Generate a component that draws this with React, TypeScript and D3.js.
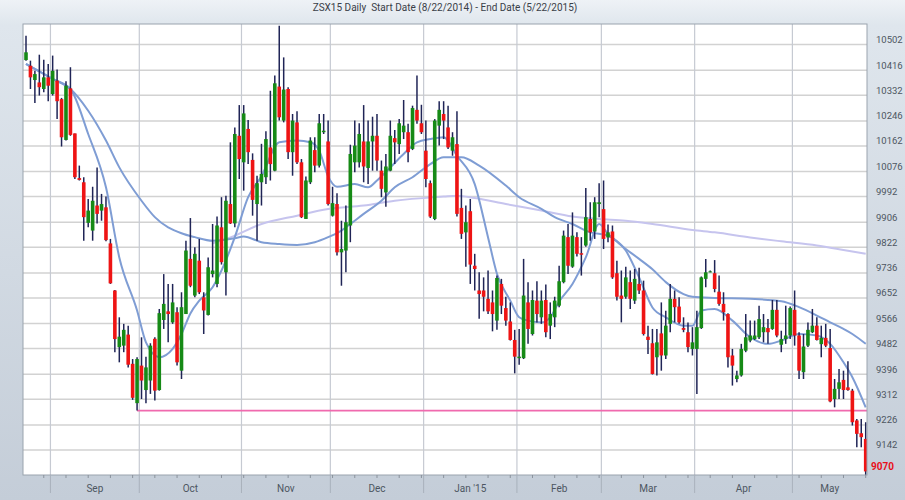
import React from 'react';
import * as d3 from 'd3';

const W = 905;
const H = 500;

const opens = [
  10450,10431,10383,10375,10353,10392,10336,10381,10319,10182,
  10355,10204,10054,10040,9904,9878,9962,9945,9956,9835,
  9677,9487,9492,9529,9431,9299,9425,9343,9375,9515,
  9343,9578,9607,9570,9604,9408,9598,9783,9660,9777,
  9654,9595,9732,9699,9889,9738,9967,9902,10196,10107,
  10219,10115,9967,10040,10057,10157,10079,10361,10247,10353,
  10141,10241,10107,9917,10040,10148,10096,10208,10177,9928,
  9967,9805,9811,9895,10107,10107,10177,10088,10177,10196,
  10079,10006,10079,10188,10168,10208,10208,10152,10283,10238,
  10146,10037,9917,10230,10269,10224,10146,10168,9954,9872,
  9943,9760,9677,9677,9649,9637,9576,9699,9618,9573,
  9511,9450,9450,9637,9531,9643,9587,9645,9559,9587,
  9626,9705,9856,9757,9856,9802,9828,9917,9875,9967,
  9950,9855,9875,9735,9660,9656,9705,9643,9699,9677,
  9522,9500,9453,9533,9459,9565,9649,9623,9551,9537,
  9481,9481,9551,9716,9741,9735,9673,9632,9598,9459,
  9380,9392,9475,9509,9514,9520,9537,9551,9548,9612,
  9495,9514,9526,9612,9526,9403,9492,9537,9559,9497,
  9518,9484,9313,9347,9377,9352,9341,9241,9198,9179,
];

const highs = [
  10532,10448,10414,10468,10451,10437,10465,10418,10323,10379,
  10426,10204,10096,10057,9984,10025,10090,10001,9992,9850,
  9679,9587,9565,9559,9447,9453,9520,9455,9500,9520,
  9615,9732,9699,9699,9621,9671,9844,9920,9822,9850,
  9671,9788,9900,9925,9990,9995,10174,10224,10299,10299,
  10249,10137,10062,10169,10211,10347,10398,10565,10459,10359,
  10269,10278,10118,10059,10191,10191,10269,10269,10247,10025,
  10003,9911,9962,10166,10247,10238,10299,10247,10260,10269,
  10113,10135,10247,10215,10252,10316,10236,10297,10398,10300,
  10247,10046,10252,10312,10312,10297,10208,10278,10018,9962,
  9984,9800,9738,9721,9744,9677,9727,9716,9656,9637,
  9545,9548,9783,9705,9677,9708,9677,9697,9637,9656,
  9760,9878,9900,9939,9872,9856,10021,9973,9990,10037,
  10046,9898,9895,9777,9744,9757,9744,9749,9753,9710,
  9559,9548,9548,9637,9609,9699,9677,9654,9587,9570,
  9554,9609,9724,9783,9744,9779,9727,9671,9601,9481,
  9408,9498,9598,9576,9576,9626,9598,9581,9645,9645,
  9542,9626,9623,9677,9537,9531,9570,9615,9587,9559,
  9565,9548,9380,9414,9408,9440,9347,9246,9246,9235,
];

const lows = [
  10448,10353,10306,10331,10342,10312,10331,10252,10160,10180,
  10196,10051,10046,9844,9889,9844,9902,9911,9842,9699,
  9470,9436,9470,9419,9310,9274,9313,9299,9330,9308,
  9341,9548,9503,9565,9425,9380,9598,9688,9654,9665,
  9531,9593,9721,9688,9764,9660,9900,9889,10051,10012,
  10101,9928,9844,9962,10034,10046,10077,10247,10241,10118,
  10062,10101,9920,9917,10034,10074,10090,10202,9962,9925,
  9794,9693,9738,9839,10074,10090,10040,10034,10079,10079,
  9990,9958,10077,10101,10135,10185,10107,10148,10236,10202,
  10023,9920,9913,10163,10185,10152,10129,9925,9850,9757,
  9699,9677,9582,9607,9598,9540,9545,9598,9559,9509,
  9399,9428,9447,9498,9526,9570,9565,9520,9514,9554,
  9621,9701,9732,9753,9791,9727,9824,9844,9850,9923,
  9816,9839,9716,9643,9570,9649,9615,9632,9665,9526,
  9464,9395,9392,9408,9447,9537,9570,9565,9537,9470,
  9459,9330,9548,9688,9738,9671,9626,9576,9419,9358,
  9369,9388,9470,9503,9511,9514,9503,9498,9545,9520,
  9470,9498,9514,9492,9380,9380,9487,9534,9509,9453,
  9487,9302,9285,9313,9313,9341,9224,9151,9151,9056,
];

const closes = [
  10476,10392,10403,10359,10392,10364,10414,10312,10191,10364,
  10199,10057,10048,9923,9945,9978,9934,9967,9846,9701,
  9514,9522,9545,9428,9317,9447,9375,9419,9492,9341,
  9601,9632,9598,9637,9436,9621,9811,9693,9800,9671,
  9610,9755,9744,9895,9772,9978,9902,10202,10118,10271,
  10141,9981,10037,10068,10185,10101,10372,10258,10351,10141,
  10247,10107,9923,10046,10180,10096,10238,10213,9967,9970,
  9805,9816,9906,10135,10163,10202,10093,10177,10196,10113,
  10018,10093,10196,10174,10238,10230,10141,10289,10247,10208,
  10051,9925,10247,10283,10247,10157,10191,9934,9867,9906,
  9764,9749,9665,9656,9607,9598,9719,9626,9576,9511,
  9455,9455,9660,9548,9645,9598,9643,9537,9598,9643,
  9708,9861,9760,9861,9800,9797,9923,9872,9973,9973,
  9850,9872,9721,9656,9649,9721,9649,9716,9677,9531,
  9511,9397,9503,9459,9559,9649,9621,9570,9545,9487,
  9503,9554,9721,9738,9741,9682,9632,9604,9453,9425,
  9392,9481,9520,9526,9526,9581,9554,9537,9612,9526,
  9514,9526,9618,9526,9408,9489,9545,9559,9511,9518,
  9492,9305,9347,9369,9343,9343,9235,9196,9185,9070,
];

// moving averages: [bar index, value]
const maFast: [number, number][] = [
  [0,10437],[6,10387],[10,10353],[14,10202],[18,10023],[21,9788],[25,9610],[27,9503],
  [30,9453],[33,9481],[35,9531],[37,9600],[39,9643],[42,9688],[44,9744],[47,9856],
  [50,9990],[53,10060],[57,10174],[61,10180],[64,10174],[66,10146],[68,10060],[70,10025],
  [74,10034],[77,10023],[79,10046],[82,10090],[85,10135],[88,10174],[91,10185],[94,10191],
  [97,10129],[101,10034],[104,9855],[106,9733],[109,9643],[111,9587],[113,9576],[116,9570],
  [118,9587],[120,9640],[123,9699],[126,9788],[129,9900],[131,9867],[135,9811],[138,9721],
  [141,9620],[144,9587],[148,9559],[150,9559],[152,9610],[155,9615],[159,9576],[163,9520],
  [167,9498],[170,9509],[174,9531],[178,9526],[181,9498],[184,9436],[186,9386],[189,9285],
];

const maMid: [number, number][] = [
  [0,10437],[6,10387],[10,10353],[14,10280],[18,10180],[21,10090],[26,9978],[29,9923],
  [35,9869],[38,9856],[42,9844],[47,9852],[49,9858],[53,9839],[57,9833],[61,9830],
  [65,9839],[68,9856],[71,9878],[73,9900],[76,9934],[80,9978],[83,10023],[87,10057],
  [91,10101],[94,10124],[98,10124],[102,10096],[108,10029],[111,9990],[116,9951],[119,9923],
  [123,9900],[127,9872],[131,9861],[135,9816],[138,9783],[141,9748],[144,9705],[148,9665],
  [150,9656],[155,9652],[163,9649],[170,9641],[174,9621],[178,9593],[181,9570],[184,9548],
  [186,9531],[189,9498],
];

const maSlow: [number, number][] = [
  [42,9835],[46,9855],[53,9900],[61,9928],[68,9950],[76,9962],[83,9978],[94,9992],
  [97,9995],[101,9987],[108,9967],[116,9945],[123,9925],[129,9917],[135,9911],[141,9900],
  [150,9880],[155,9872],[163,9855],[170,9842],[178,9828],[184,9813],[189,9800],
];

const priceTicks = [
  9142, 9226, 9312, 9396, 9482, 9566, 9652, 9736, 9822, 9906,
  9992, 10076, 10162, 10246, 10332, 10416, 10502,
];
const monthLabels = ['Sep', 'Oct', 'Nov', 'Dec', "Jan '15", 'Feb', 'Mar', 'Apr', 'May'];
const monthStarts = [6, 26, 49, 69, 90, 111, 130, 151, 173];
const lastPrice = 9070;
const supportLevel = 9274;
const supportFrom = 25;
const title = 'ZSX15 Daily  Start Date (8/22/2014) - End Date (5/22/2015)';

const PL = 23, PR = 867, PT = 24, PB = 475;

export default function App() {
  const n = closes.length;
  const x = d3.scaleLinear().domain([0, n - 1]).range([26, 865.7]);
  const y = d3.scaleLinear().domain([9058, 10571]).range([PB, PT]);
  const line = d3
    .line<[number, number]>()
    .x((d) => x(d[0]))
    .y((d) => y(d[1]))
    .curve(d3.curveMonotoneX);

  const bodyW = 3.6;
  const bounds = monthStarts.map((s) => x(s - 0.5));
  const labelCenters = monthStarts.map((s, k) => {
    const a = x(s - 0.5);
    const b = k < monthStarts.length - 1 ? x(monthStarts[k + 1] - 0.5) : PR;
    return (a + b) / 2;
  });
  const weekTicks = d3.range(4, n, 5);

  return (
    <svg
      width={W}
      height={H}
      style={{ position: 'absolute', left: 0, top: 0, display: 'block' }}
      fontFamily="Roboto, 'Open Sans', sans-serif"
    >
      <defs>
        <linearGradient id="bg" x1="0" y1="0" x2="0" y2="1">
          <stop offset="0" stopColor="#eef2f6" />
          <stop offset="0.05" stopColor="#dfe6ed" />
          <stop offset="1" stopColor="#c4cdd8" />
        </linearGradient>
        <clipPath id="plotClip">
          <rect x={PL} y={PT} width={PR - PL} height={PB - PT} />
        </clipPath>
      </defs>
      <rect x={0} y={0} width={W} height={H} fill="url(#bg)" />
      <text
        x={445}
        y={10.5}
        textAnchor="middle"
        fontSize={10}
        fill="#3a4048"
        style={{ whiteSpace: 'pre' }}
      >
        {title}
      </text>

      <rect x={PL} y={PT} width={PR - PL} height={PB - PT} fill="#ffffff" />

      <g clipPath="url(#plotClip)">
        {priceTicks.map((p) => (
          <line key={p} x1={PL} x2={PR} y1={y(p)} y2={y(p)} stroke="#d2d2d2" strokeWidth={1.5} />
        ))}
        {bounds.map((bx, k) => (
          <line key={k} x1={bx} x2={bx} y1={PT} y2={PB} stroke="#c6cad2" strokeWidth={1.2} />
        ))}
        <path d={line(maSlow) || ''} fill="none" stroke="#c6c4ee" strokeWidth={2} />
        <path d={line(maMid) || ''} fill="none" stroke="#7f9dd4" strokeWidth={2} />
        <path d={line(maFast) || ''} fill="none" stroke="#7f9dd4" strokeWidth={2} />
        <line
          x1={x(supportFrom)}
          x2={PR}
          y1={y(supportLevel)}
          y2={y(supportLevel)}
          stroke="#f06aae"
          strokeWidth={1.6}
        />
        {closes.map((c, i) => {
          const o = opens[i];
          const up = c >= o;
          const cx = x(i);
          const top = y(Math.max(o, c));
          const bot = y(Math.min(o, c));
          return (
            <g key={i}>
              <line x1={cx} x2={cx} y1={y(highs[i])} y2={y(lows[i])} stroke="#1f2456" strokeWidth={1.5} />
              <rect
                x={cx - bodyW / 2}
                y={top}
                width={bodyW}
                height={Math.max(1, bot - top)}
                fill={up ? '#168a16' : '#ee1414'}
              />
            </g>
          );
        })}
      </g>

      <rect x={PL} y={PT} width={PR - PL} height={PB - PT} fill="none" stroke="#9aa3ae" strokeWidth={1} />

      {/* bottom axis ticks */}
      {weekTicks.map((i) => (
        <line key={i} x1={x(i)} x2={x(i)} y1={PB} y2={PB + 3} stroke="#8a929c" strokeWidth={1} />
      ))}
      {bounds.map((bx, k) => (
        <line key={k} x1={bx} x2={bx} y1={PB} y2={493} stroke="#a9b1bc" strokeWidth={1} />
      ))}
      {monthLabels.map((m, k) => (
        <text key={m} x={labelCenters[k]} y={491.5} textAnchor="middle" fontSize={10} fill="#4d5661">
          {m}
        </text>
      ))}

      {/* right axis */}
      {priceTicks.map((p) => (
        <text key={p} x={876} y={y(p) - 1.5} fontSize={9.5} fill="#4d5661">
          {p}
        </text>
      ))}
      <text x={871} y={y(lastPrice) - 1.5} fontSize={10} fontWeight="bold" fill="#e8101a">
        {lastPrice}
      </text>
    </svg>
  );
}
